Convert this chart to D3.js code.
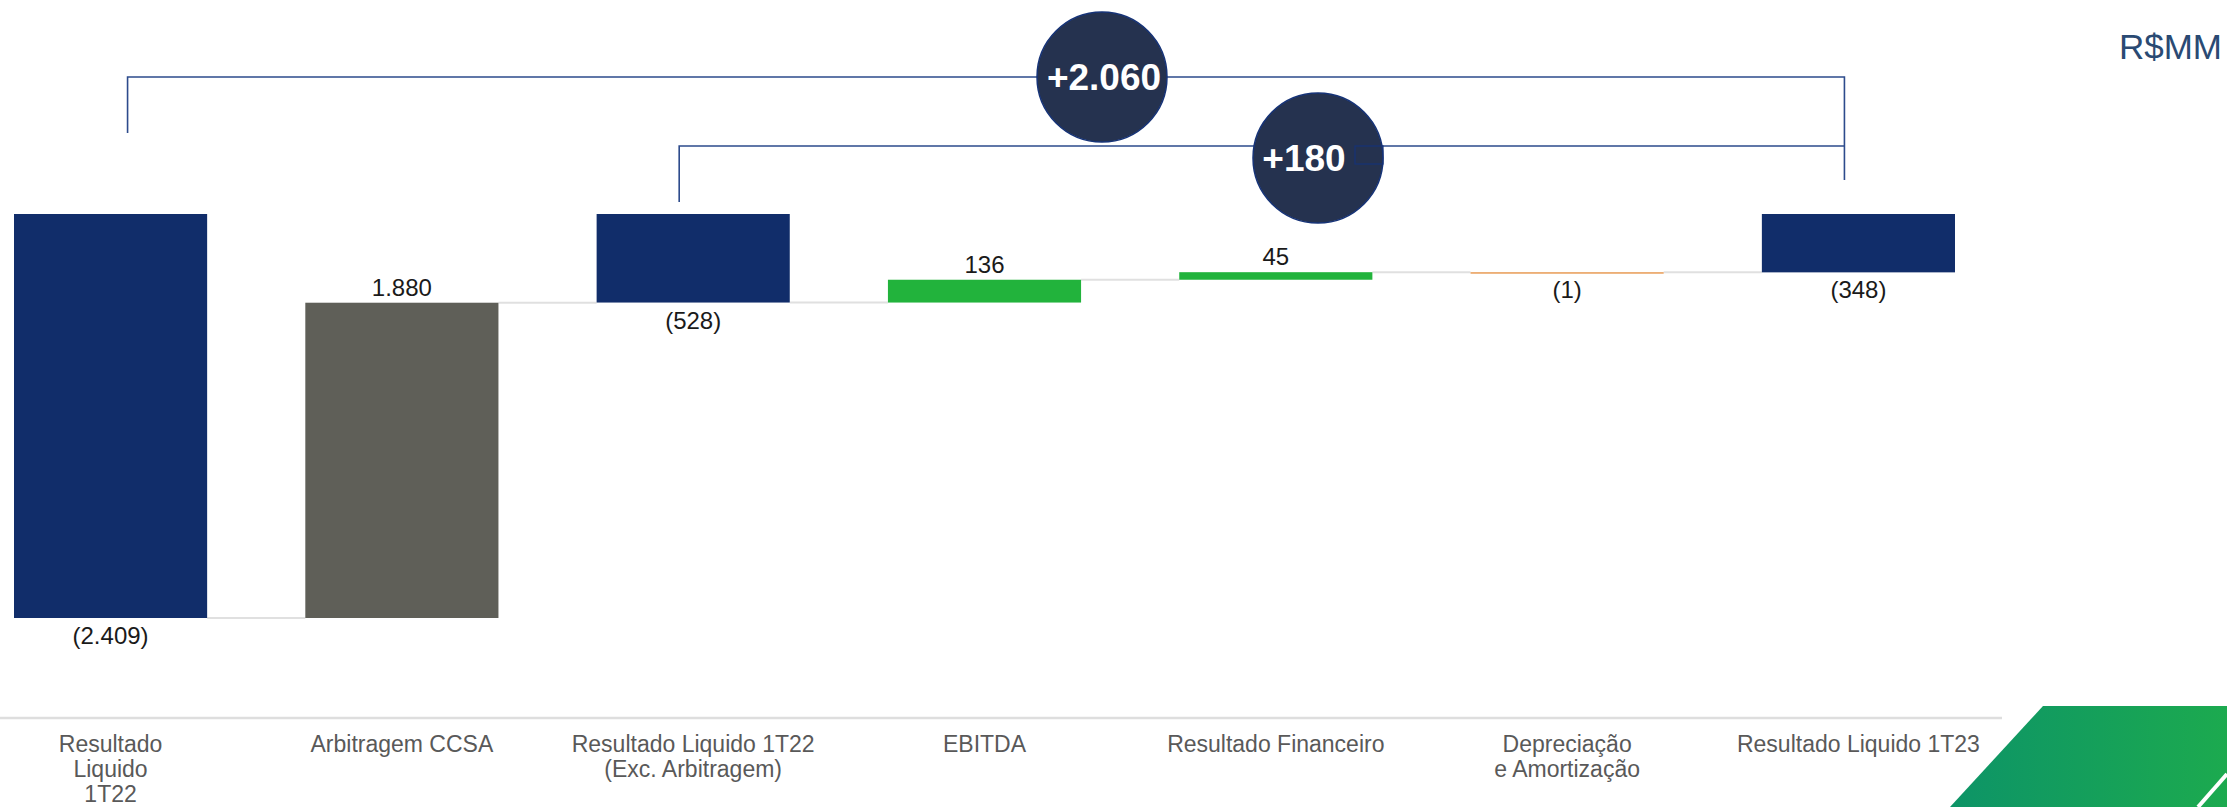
<!DOCTYPE html>
<html>
<head>
<meta charset="utf-8">
<script src="https://cdn.jsdelivr.net/npm/d3@7"></script>
<style>
  html, body { margin: 0; padding: 0; background: #fff; }
  svg { display: block; font-family: "Liberation Sans", Arial, sans-serif; }
</style>
</head>
<body>
<svg id="chart" width="2227" height="807"></svg>
<script>
// ---- data ----
const categories = [
  ["Resultado", "Liquido", "1T22"],
  ["Arbitragem CCSA"],
  ["Resultado Liquido 1T22", "(Exc. Arbitragem)"],
  ["EBITDA"],
  ["Resultado Financeiro"],
  ["Depreciação", "e Amortização"],
  ["Resultado Liquido 1T23"]
];
const values = [-2409, 1880, -528, 136, 45, -1, -348];
const kinds = ["total", "delta", "total", "delta", "delta", "delta", "total"];
const valueLabels = ["(2.409)", "1.880", "(528)", "136", "45", "(1)", "(348)"];
const bracketLabels = ["+2.060", "+180"];
const bracketFrom = [0, 2];   // category index where each bracket starts
const bracketTo = [6, 6];     // category index where each bracket ends
const unitLabel = "R$MM";

// ---- colours ----
const colNavy = "#112d6a";
const colGray = "#5f5f58";
const colGreen = "#22b33c";
const colOrange = "#e89b55";

// ---- build waterfall segments ----
let running = 0;
const segs = values.map((v, i) => {
  let y0, y1;
  if (kinds[i] === "total") { y0 = 0; y1 = v; running = v; }
  else { y0 = running; y1 = running + v; running = y1; }
  let color;
  if (kinds[i] === "total") color = colNavy;
  else if (i === 1) color = colGray;
  else color = v >= 0 ? colGreen : colOrange;
  return { i, v, y0, y1, color, kind: kinds[i], label: valueLabels[i], cat: categories[i] };
});

const svg = d3.select("#chart");

const x = d3.scaleBand()
  .domain(d3.range(categories.length))
  .range([14, 1955])
  .paddingInner(0.337)
  .paddingOuter(0);

const y = d3.scaleLinear()
  .domain([0, d3.min(values)])
  .range([214, 618]);

// axis baseline
svg.append("line")
  .attr("x1", 0).attr("x2", 2002)
  .attr("y1", 718).attr("y2", 718)
  .attr("stroke", "#dedede").attr("stroke-width", 2.5);

// connectors
segs.slice(0, -1).forEach((s, k) => {
  const level = s.y1;
  svg.append("line")
    .attr("x1", x(k) + x.bandwidth())
    .attr("x2", x(k + 1))
    .attr("y1", y(level)).attr("y2", y(level))
    .attr("stroke", "#e0e0e0").attr("stroke-width", 2);
});

// bars
svg.selectAll("rect.bar").data(segs).enter().append("rect")
  .attr("class", "bar")
  .attr("x", d => x(d.i))
  .attr("width", x.bandwidth())
  .attr("y", d => Math.min(y(d.y0), y(d.y1)))
  .attr("height", d => Math.max(1.5, Math.abs(y(d.y0) - y(d.y1))))
  .attr("fill", d => d.color);

// value labels
svg.selectAll("text.val").data(segs).enter().append("text")
  .attr("class", "val")
  .attr("x", d => x(d.i) + x.bandwidth() / 2)
  .attr("y", d => {
    const top = Math.min(y(d.y0), y(d.y1));
    const bot = Math.max(y(d.y0), y(d.y1));
    return d.v >= 0 ? top - 7 : bot + 26;
  })
  .attr("text-anchor", "middle")
  .attr("font-size", 24)
  .attr("fill", "#1a1a1a")
  .text(d => d.label);

// category labels
segs.forEach(d => {
  const t = svg.append("text")
    .attr("x", x(d.i) + x.bandwidth() / 2)
    .attr("y", 752)
    .attr("text-anchor", "middle")
    .attr("font-size", 23)
    .attr("fill", "#595959");
  d.cat.forEach((line, j) => {
    t.append("tspan")
      .attr("x", x(d.i) + x.bandwidth() / 2)
      .attr("dy", j === 0 ? 0 : 25)
      .text(line);
  });
});

// brackets
const bracketY = [77, 146];
const leftOff = [17, -14];
const leftBottom = [133, 202];
const rightBottom = 180;
const circleX = [1102, 1318];
const circleY = [77, 158];
const textOff = [2, -14];
const lineCol = "#2d4b8c";

bracketLabels.forEach((lab, b) => {
  const xl = x(bracketFrom[b]) + x.bandwidth() / 2 + leftOff[b];
  const xr = x(bracketTo[b]) + x.bandwidth() / 2 - 14;
  svg.append("path")
    .attr("d", `M${xl},${leftBottom[b]} V${bracketY[b]} H${xr} V${b === 0 ? rightBottom : bracketY[b]}`)
    .attr("fill", "none")
    .attr("stroke", lineCol)
    .attr("stroke-width", 1.6);
});

bracketLabels.forEach((lab, b) => {
  svg.append("circle")
    .attr("cx", circleX[b]).attr("cy", circleY[b]).attr("r", 65)
    .attr("fill", "#25324f")
    .attr("stroke", "#163377").attr("stroke-width", 1.5);
  svg.append("text")
    .attr("x", circleX[b] + textOff[b]).attr("y", circleY[b] + 13)
    .attr("text-anchor", "middle")
    .attr("font-size", 37)
    .attr("font-weight", "bold")
    .attr("fill", "#ffffff")
    .text(lab);
});
// small outline artifact inside second circle
svg.append("rect")
  .attr("x", 1355).attr("y", 146).attr("width", 28).attr("height", 18)
  .attr("fill", "none").attr("stroke", "#163377").attr("stroke-width", 1.2);

// unit label
svg.append("text")
  .attr("x", 2222).attr("y", 59)
  .attr("text-anchor", "end")
  .attr("font-size", 35)
  .attr("fill", "#2a4a73")
  .text(unitLabel);

// decorative green shape bottom-right
const defs = svg.append("defs");
const grad = defs.append("linearGradient").attr("id", "gg")
  .attr("x1", "0%").attr("x2", "100%").attr("y1", "0%").attr("y2", "0%");
grad.append("stop").attr("offset", "0%").attr("stop-color", "#0d9467");
grad.append("stop").attr("offset", "100%").attr("stop-color", "#1caa4f");
svg.append("path")
  .attr("d", "M2043,706 L2227,706 L2227,807 L1950,807 Z")
  .attr("fill", "url(#gg)");
svg.append("path")
  .attr("d", "M2198,807 L2227,774")
  .attr("stroke", "#ffffff").attr("stroke-width", 4).attr("fill", "none");
</script>
</body>
</html>
